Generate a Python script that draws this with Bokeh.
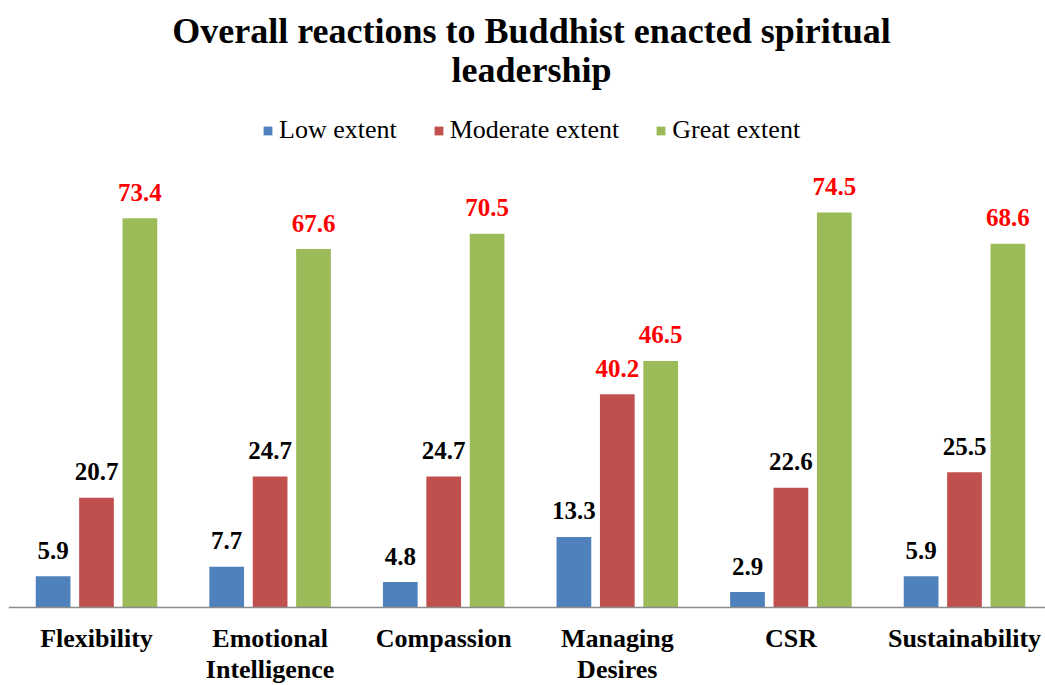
from bokeh.plotting import figure
from bokeh.models import ColumnDataSource, Legend, LegendItem, Span, Label, Range1d
from bokeh.transform import dodge
from bokeh.core.properties import value
from bokeh.embed import file_html
from bokeh.resources import INLINE

categories = ["Flexibility", "Emotional\nIntelligence", "Compassion", "Managing\nDesires", "CSR", "Sustainability"]
series_names = ["Low extent", "Moderate extent", "Great extent"]
low = [5.9, 7.7, 4.8, 13.3, 2.9, 5.9]
moderate = [20.7, 24.7, 24.7, 40.2, 22.6, 25.5]
great = [73.4, 67.6, 70.5, 46.5, 74.5, 68.6]
colors = ["#4F81BD", "#C0504D", "#9BBB59"]

FONTNAME = "Liberation Serif"
FONT = value(FONTNAME)
W, H = 1045, 685
LB = 8
PX_X, PX_Y = 173.6, 5.302

xs = list(range(len(categories)))
p = figure(width=W, height=H, output_backend="svg", toolbar_location=None,
           x_axis_type=None, y_axis_type=None, min_border=0, min_border_left=LB,
           x_range=Range1d(-88 / PX_X, -88 / PX_X + (W - LB) / PX_X),
           y_range=Range1d(-78 / PX_Y, 607 / PX_Y))
p.outline_line_color = None
p.xgrid.visible = False
p.ygrid.visible = False

renderers = []
offsets = [-0.25, 0.0, 0.25]
for name, vals, col, off in zip(series_names, [low, moderate, great], colors, offsets):
    src = ColumnDataSource(dict(x=xs, v=vals, t=[f"{v:.1f}" for v in vals],
                                c=["#FF0000" if v > 40 else "#000000" for v in vals]))
    r = p.vbar(x=dodge("x", off, range=p.x_range), top="v", bottom=0, width=0.2,
               source=src, fill_color=col, line_color=None)
    renderers.append((name, r))
    p.text(x=dodge("x", off, range=p.x_range), y="v", text="t", source=src,
           text_color="c", text_font=FONT, text_font_style="bold", text_font_size="25px",
           text_align="center", text_baseline="alphabetic", y_offset=-26)

p.add_layout(Span(location=0, dimension="width", line_color="#8C8C8C", line_width=1.5))

catsrc = ColumnDataSource(dict(x=xs, t=categories))
p.text(x="x", y=0, text="t", source=catsrc, text_font=FONT, text_font_style="bold",
       text_font_size="26px", text_align="center", text_baseline="top", y_offset=16,
       text_line_height=1.08, text_color="#000000")

legend = Legend(items=[LegendItem(label=n, renderers=[r]) for n, r in renderers],
                orientation="horizontal", location=(254, 540),
                label_text_font=FONTNAME, label_text_font_size="26px", label_text_color="#000000",
                glyph_width=11, glyph_height=11, label_standoff=6, spacing=36,
                padding=0, margin=0, border_line_color=None, background_fill_alpha=0)
p.add_layout(legend, "center")

p.add_layout(Label(x=523, y=655, x_units="screen", y_units="screen",
                   text="Overall reactions to Buddhist enacted spiritual",
                   text_font=FONTNAME, text_font_style="bold", text_font_size="36px",
                   text_align="center", text_baseline="alphabetic", text_color="#000000"))
p.add_layout(Label(x=523, y=616, x_units="screen", y_units="screen",
                   text="leadership",
                   text_font=FONTNAME, text_font_style="bold", text_font_size="36px",
                   text_align="center", text_baseline="alphabetic", text_color="#000000"))

open("out.html", "w").write(file_html(p, INLINE))
